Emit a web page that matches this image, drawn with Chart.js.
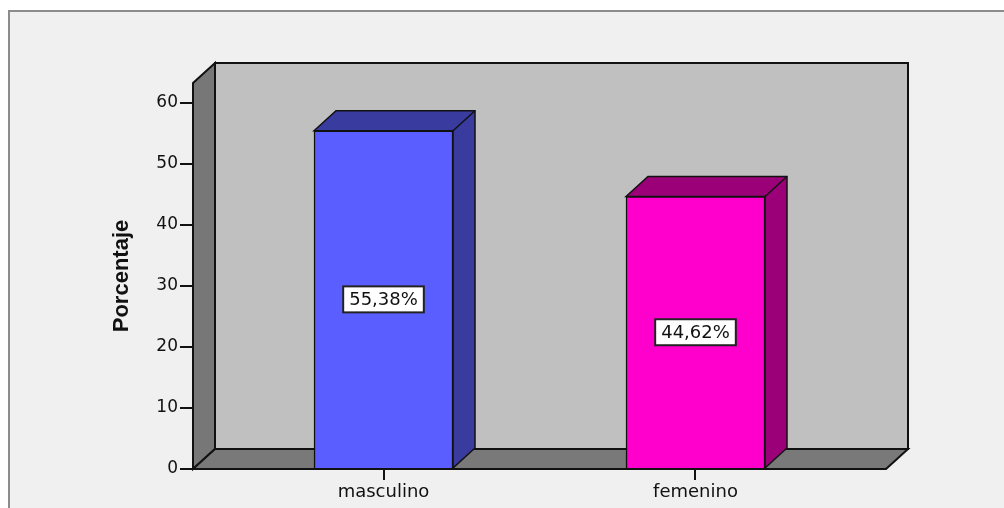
<!DOCTYPE html>
<html>
<head>
<meta charset="utf-8">
<script src="https://cdn.jsdelivr.net/npm/chart.js@4/dist/chart.umd.min.js"></script>
<style>
  html, body { margin: 0; padding: 0; background: #fff; }
  #wrap { width: 1004px; height: 508px; }
</style>
</head>
<body>
<div id="wrap"><canvas id="myChart"></canvas></div>
<script>
const categorias = ['masculino', 'femenino'];
const porcentajes = [55.38, 44.62];
const yTicks = [0, 10, 20, 30, 40, 50, 60];

const caraFrontal = ['#5a5eff', '#ff00cc'];
const caraOscura = ['#3a3b9e', '#9c0078'];

// depth of the fake 3D box
const DX = 22, DY = 20;

const fondoPlugin = {
  id: 'fondo',
  beforeDraw(chart) {
    const ctx = chart.ctx;
    ctx.save();
    ctx.fillStyle = '#ffffff';
    ctx.fillRect(0, 0, chart.width, chart.height);
    ctx.fillStyle = '#f0f0f0';
    ctx.fillRect(9, 11, chart.width, chart.height);
    ctx.strokeStyle = '#8c8c8c';
    ctx.lineWidth = 2;
    ctx.strokeRect(9, 11, chart.width + 20, chart.height + 20);
    ctx.restore();
  },
  beforeDatasetsDraw(chart) {
    const {ctx, chartArea: a} = chart;
    ctx.save();
    ctx.lineWidth = 2;
    ctx.strokeStyle = '#111';
    ctx.lineJoin = 'miter';

    // back wall
    ctx.fillStyle = '#c0c0c0';
    ctx.beginPath();
    ctx.rect(a.left + DX, a.top - DY, a.right - a.left, a.bottom - a.top);
    ctx.fill();
    ctx.stroke();

    // left wall
    ctx.fillStyle = '#777777';
    ctx.beginPath();
    ctx.moveTo(a.left, a.top);
    ctx.lineTo(a.left + DX, a.top - DY);
    ctx.lineTo(a.left + DX, a.bottom - DY);
    ctx.lineTo(a.left, a.bottom);
    ctx.closePath();
    ctx.fill();
    ctx.stroke();

    // floor
    ctx.fillStyle = '#797979';
    ctx.beginPath();
    ctx.moveTo(a.left, a.bottom);
    ctx.lineTo(a.left + DX, a.bottom - DY);
    ctx.lineTo(a.right + DX, a.bottom - DY);
    ctx.lineTo(a.right, a.bottom);
    ctx.closePath();
    ctx.fill();
    ctx.stroke();

    // bar tops and sides
    ctx.lineWidth = 1.5;
    chart.getDatasetMeta(0).data.forEach((bar, i) => {
      const p = bar.getProps(['x', 'y', 'base', 'width'], true);
      const l = p.x - p.width / 2, r = p.x + p.width / 2;
      ctx.fillStyle = caraOscura[i];
      ctx.beginPath();
      ctx.moveTo(l, p.y);
      ctx.lineTo(l + DX, p.y - DY);
      ctx.lineTo(r + DX, p.y - DY);
      ctx.lineTo(r + DX, p.base - DY);
      ctx.lineTo(r, p.base);
      ctx.lineTo(r, p.y);
      ctx.closePath();
      ctx.fill();
      ctx.stroke();
      ctx.beginPath();
      ctx.moveTo(r, p.y);
      ctx.lineTo(r + DX, p.y - DY);
      ctx.stroke();
    });
    ctx.restore();
  },
  afterDatasetsDraw(chart) {
    const ctx = chart.ctx;
    ctx.save();
    ctx.font = '18px "DejaVu Sans", sans-serif';
    ctx.textAlign = 'center';
    ctx.textBaseline = 'middle';
    chart.getDatasetMeta(0).data.forEach((bar, i) => {
      const p = bar.getProps(['x', 'y', 'base'], true);
      const cy = (p.y + p.base) / 2;
      const txt = porcentajes[i].toFixed(2).replace('.', ',') + '%';
      const w = ctx.measureText(txt).width + 12;
      const h = 26;
      ctx.fillStyle = '#ffffff';
      ctx.fillRect(p.x - w / 2, cy - h / 2, w, h);
      ctx.strokeStyle = '#222';
      ctx.lineWidth = 2;
      ctx.strokeRect(p.x - w / 2, cy - h / 2, w, h);
      ctx.fillStyle = '#111';
      ctx.fillText(txt, p.x, cy + 1);
    });
    ctx.restore();
  }
};

new Chart(document.getElementById('myChart'), {
  type: 'bar',
  data: {
    datasets: [{
      data: porcentajes.map((v, i) => ({x: i + 1, y: v})),
      backgroundColor: caraFrontal,
      borderColor: '#111',
      borderWidth: 1.5,
      barThickness: 139
    }]
  },
  options: {
    responsive: true,
    maintainAspectRatio: false,
    animation: false,
    layout: {
      padding: {left: 97, right: 118, top: 83, bottom: 0}
    },
    scales: {
      x: {
        type: 'linear',
        offset: false,
        min: 0.3894,
        max: 2.6106,
        afterBuildTicks(scale) {
          scale.ticks = categorias.map((c, i) => ({value: i + 1}));
        },
        afterFit(scale) { scale.height = 39; },
        ticks: {
          callback: (v) => categorias[v - 1],
          color: '#111',
          padding: 2,
          maxRotation: 0,
          font: {family: '"DejaVu Sans", sans-serif', size: 18}
        },
        grid: {
          offset: false,
          drawOnChartArea: false,
          color: '#111',
          lineWidth: 2,
          tickLength: 11
        },
        border: {display: false}
      },
      y: {
        min: 0,
        max: 63.2,
        afterBuildTicks(scale) {
          scale.ticks = yTicks.map(v => ({value: v}));
        },
        afterFit(scale) { scale.width = 96; },
        ticks: {
          color: '#111',
          padding: 2,
          font: {family: '"DejaVu Sans", sans-serif', size: 17}
        },
        grid: {
          drawOnChartArea: false,
          color: '#111',
          lineWidth: 2,
          tickLength: 13
        },
        border: {display: false},
        title: {
          display: true,
          text: 'Porcentaje',
          color: '#111',
          padding: {top: 12, bottom: 0},
          font: {family: '"Liberation Sans", Arial, sans-serif', size: 22, weight: 'bold'}
        }
      }
    },
    plugins: {
      legend: {display: false},
      tooltip: {enabled: false}
    }
  },
  plugins: [fondoPlugin]
});
</script>
</body>
</html>
